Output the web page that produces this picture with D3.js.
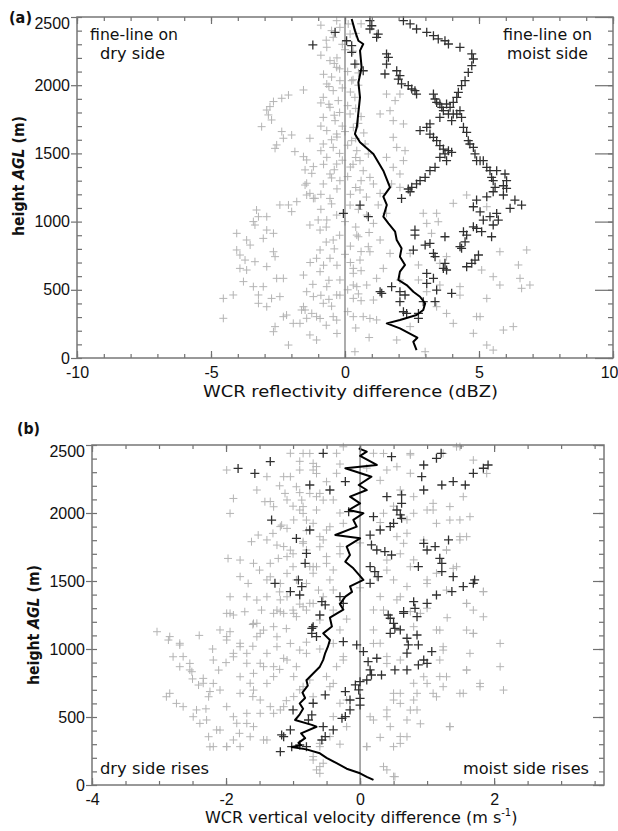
<!DOCTYPE html>
<html>
<head>
<meta charset="utf-8">
<script src="https://cdn.jsdelivr.net/npm/d3@7"></script>
<style>
  body { margin: 0; background: #fff; }
</style>
</head>
<body>
<div id="chart"></div>
<script>
// ---- data: [difference, height AGL (m)] ----
// panel (a) reflectivity difference (dBZ)
const reflGray = [
  [-1.55,1965],[-2.11,1928],[-2.36,1904],[-2.67,1880],[-2.8,1843],[-2.92,1818],[-2.86,1782],[-2.74,1745],[-3.11,1696],[-2.36,1660],
  [-1.99,1635],[-2.3,1611],[-2.55,1562],[-2.61,1537],[-1.87,1513],[-1.31,1611],[-1.55,1476],[-1.43,1452],[-1.18,1403],[-1.49,1379],
  [-1.24,1354],[-1.43,1281],[-1.31,1207],[-1.49,1268],[-1.43,1195],[-1.12,1171],[-1.8,1146],[-2.11,1122],[-2.43,1122],[-1.99,1073],
  [-3.3,1085],[-3.23,1036],[-3.42,1000],[-3.36,975],[-2.92,1036],[-2.92,938],[-2.67,914],[-3.05,877],[-4.04,914],[-3.67,865],
  [-3.54,828],[-4.04,792],[-3.92,755],[-3.73,718],[-3.36,706],[-3.92,657],[-3.67,645],[-2.92,670],[-2.67,779],[-2.61,743],
  [-3.79,560],[-3.42,523],[-3.05,523],[-2.55,584],[-2.3,584],[-3.23,462],[-3.23,401],[-2.92,376],[-2.43,450],[-2.74,437],
  [-4.54,437],[-4.17,462],[-4.54,291],[-2.18,315],[-2.3,303],[-1.93,254],[-1.68,254],[-2.61,230],[-2.67,193],[-1.62,352],
  [-1.49,352],[-1.24,327],[-1.43,486],[-1.18,450],[-1.31,169],[-2.11,95],[-1.06,132],[-1.06,731],[-1.55,608],[-1.0,1012],
  [6.78,792],[6.47,682],[6.9,535],[6.59,511],[6.53,584],[5.1,645],[5.04,303],[4.79,181],[5.29,95],[5.91,205],
  [6.28,230],[4.04,254],[5.29,437],[4.29,523],[2.99,46],[0.37,46],[-1.43,291],[-1.55,376],[-1.06,303],[-0.44,303],
  [-0.81,401],[-0.31,462],[-0.68,523],[-0.19,572],[-0.56,731],[-0.93,792],[0.31,621],[0.81,535],[0.44,523],[0.31,437],
  [1.06,425],[0.68,303],[1.18,279],[0.56,718],[0.87,816],[1.31,865],[0.5,889],[1.06,987],[1.55,1061],[1.24,1122],
  [-0.68,1012],[-0.93,938],[-0.44,865],[0.56,1232],[1.31,1207],[3.05,987],[3.42,1061],[2.92,1061],[3.23,914],[3.79,743],
  [3.54,694],[2.43,767],[2.74,682],[1.68,767],[2.05,572],[3.42,376],[3.79,327],[2.74,572],[2.43,230],[1.93,132],
  [-0.31,2473],[-0.19,2424],[-0.44,2351],[-0.68,2278],[-0.56,2180],[-0.31,2131],[-0.19,2033],[-0.68,2009],[-0.44,1960],[-0.81,1911],
  [-0.25,1887],[-0.56,1838],[-0.81,1764],[-0.37,1740],[-0.68,1667],[-0.31,1642],[-0.81,1569],[-0.44,1544],[-0.68,1471],[-0.31,1422],
  [-0.56,1349],[-0.19,1300],[-0.81,1276],[0.12,2449],[0.19,2375],[0.44,2155],[0.25,2033],[0.37,1911],[0.19,1789],[0.31,1691],
  [0.25,1593],[0.44,1520],[0.56,1447],[0.68,1373],[0.93,1324],[1.06,1276],[0.87,1496],[0.75,1569],[1.55,1471],[1.8,1398],
  [2.05,1349],[2.18,1447],[2.24,1520],[1.93,1544],[1.8,1618],[1.8,1740],[1.68,1813],[1.87,1887],[2.05,1935],[1.55,1935],
  [1.74,1276],[2.05,1251],[1.31,1789],[2.18,1716],[1.18,2375],
  [-1.18,1170],[-0.56,1170],[-1.31,975],[-0.31,1048],[0.19,1121],[0.81,1048],[0.44,901],[0.93,779],[-0.93,633],[0.31,657],
  [-0.19,461],[0.31,535],[1.18,584],[1.43,657],[-0.93,290],[-0.31,278],[0.31,303],[0.93,290],[5.78,535],[5.53,596],
  [4.04,1134],[4.54,1195],[5.29,1109],[5.78,779],[3.54,535],[4.29,461],[3.05,486],[3.48,999],[4.91,303],[5.53,58],
  [0.6,2450],[-0.1,2300],[0.3,2250],[-0.3,2200],[0.1,2100],[-0.5,2060],[0.5,2000],[-0.1,1980],[0.2,1950],[-0.6,1860],
  [0.1,1850],[-0.2,1800],[0.5,1720],[-0.1,1700],[0.7,1650],[-0.5,1600],[0.1,1560],[0.4,1470],[-0.1,1450],[0.2,1400],
  [-0.4,1380],[0.1,1330],[0.4,1250],[-0.3,1240],[0.8,1180],[-0.9,1090],[0.0,1000],[0.4,960],[-0.2,900],[0.2,820],
  [-0.7,850],[0.0,760],[-0.3,680],[0.6,640],[-0.6,570],[0.1,500],[-0.9,460],[0.6,420],[-0.5,380],[0.1,340],
  [-0.7,240],[0.4,220],[-0.3,180],[0.9,150],
  [-0.9,2440],[-0.5,2400],[0.4,2380],[-0.7,2330],[0.0,2260],[-0.9,2220],[-0.4,2160],[0.5,2090],[-0.8,2080],[-0.2,2120],
  [0.3,2040],[-0.6,1990],[-0.9,1870],[0.4,1830],[-0.4,1780],[0.6,1770],[-0.9,1700],[0.0,1660],[-0.3,1620],[0.4,1610],
  [-0.9,1520],[-0.2,1500],[0.3,1420],[-0.8,1420],[-0.5,1320],[0.6,1300],[-0.9,1200],[0.2,1200],[-0.5,1130],[0.5,1090],
  [-0.7,960],[0.9,920],[-0.4,800],[0.6,780],[-1.3,700],[0.2,700],[-0.8,680],[-1.2,540],[0.5,470],[-0.6,430]
];
const reflDark = [
  [0.93,2473],[1.0,2436],[0.93,2412],[1.24,2375],[1.18,2351],[1.55,2229],[1.62,2204],[1.55,2155],[1.49,2082],[1.93,2106],
  [2.05,2070],[1.99,2045],[2.11,2009],[2.36,1997],[2.49,1972],[2.61,1960],[2.67,1935],[3.3,1935],[3.36,1899],[3.42,1874],
  [3.54,1862],[3.61,1838],[3.67,1813],[3.79,1862],[3.86,1789],[3.92,1838],[3.98,1740],[4.04,1789],[4.17,1789],[4.29,1813],
  [4.35,1764],[4.42,1691],[4.54,1654],[4.6,1593],[4.66,1569],[4.79,1544],[4.85,1496],[4.91,1447],[5.04,1447],[5.16,1447],
  [5.29,1398],[5.41,1373],[5.47,1324],[5.53,1300],[5.66,1373],[5.97,1349],[6.03,1300],[5.91,1263],[5.6,1251],
  [2.18,2473],[2.43,2449],[2.67,2412],[3.05,2388],[3.3,2363],[3.48,2339],[3.73,2326],[3.86,2302],[4.29,2278],[4.73,2229],
  [4.79,2192],[4.73,2143],[4.6,2094],[4.48,2033],[4.35,1997],[4.23,1948],[4.17,1911],[4.04,1874],[3.54,1764],[3.17,1716],
  [3.05,1691],[2.8,1667],[3.17,1642],[3.3,1618],[3.42,1593],[3.54,1557],[3.67,1532],[3.86,1520],[3.98,1508],[3.54,1471],
  [3.79,1447],[3.73,1496],[3.36,1398],[3.17,1373],[2.99,1324],[2.8,1300],[2.67,1276],[2.49,1251],[2.36,1239],
  [-0.37,2388],[0.25,2290],[0.25,2241],[0.37,2155],[0.68,2106],[0.06,2326],[-1.2,2295],
  [6.03,1244],[5.53,1219],[5.91,1195],[6.34,1158],[6.59,1121],[6.16,1097],[5.29,1182],[4.91,1158],[4.79,1109],[5.04,1072],
  [5.41,1036],[5.66,1060],[5.16,1011],[5.72,1011],[5.53,975],[4.79,962],[4.91,950],[5.1,926],[5.47,889],[4.42,926],
  [4.54,901],[3.73,889],[4.48,852],[4.29,816],[4.35,804],[2.61,938],[2.61,901],[2.99,828],[3.17,840],[2.55,791],
  [3.3,767],[3.36,743],[3.73,694],[3.79,645],[3.67,657],[4.54,669],[4.73,694],[4.98,755],[4.85,718],[3.05,620],
  [3.3,584],[3.05,547],[3.42,498],[3.98,474],[3.36,413],[2.92,413],[2.05,486],[2.24,462],[2.05,413],[1.74,523],
  [1.31,486],[1.37,474],[2.18,339],[2.3,327],[2.74,327],[2.74,290],[0.56,1121],[0.87,1036],[-0.06,1060],[2.43,1219],
  [2.11,1170]
];
const reflMean = [
  [2.67,58],[2.55,119],[2.7,149],[2.05,217],[1.56,254],[2.05,278],[2.67,315],[2.92,352],[2.99,400],[2.8,449],
  [2.55,486],[2.3,535],[1.99,572],[2.05,633],[2.24,682],[2.05,743],[2.11,804],[1.93,865],[1.87,926],[1.62,987],
  [1.43,1036],[1.56,1122],[1.43,1183],[1.68,1251],[1.43,1373],[1.06,1496],[0.56,1581],[0.37,1642],[0.44,1691],[0.5,1800],
  [0.56,1911],[0.5,2020],[0.62,2131],[0.56,2253],[0.68,2302],[0.5,2326],[0.37,2400],[0.25,2485]
];

// panel (b) vertical velocity difference (m s-1)
const velGray = [
  [-1.99,2316],[-1.89,2107],[-1.94,1997],[-1.54,2169],[-1.42,2083],[-1.29,2046],[-1.52,1838],[-1.62,1789],[-1.97,1666],[-1.79,1654],
  [-1.59,1630],[-1.79,1532],[-1.67,1482],[-1.69,1384],[-1.54,1360],[-1.39,1384],[-1.47,1286],[-1.19,1274],[-1.04,2267],[-0.95,2193],
  [-1.12,2144],[-1.17,1911],[-1.09,1887],[-1.24,1764],[-1.04,1727],[-1.22,1666],[-1.0,1605],[-1.34,1531],[-1.09,1556],[-1.19,1482],
  [-0.9,2022],[-0.8,1948],[-0.85,1789],[-0.65,2022],[-0.75,2438],[-0.7,2365],[-0.65,2291],[-0.6,2144],[-0.87,2095],[-0.6,1752],
  [-0.65,1605],[-0.62,1433],[-0.7,1335],[-0.85,1311],[-1.09,1384],[-1.94,1384],[-1.94,1262],[-1.72,1274],
  [-0.85,2438],[-0.7,2316],[-0.75,2144],[-0.55,2095],[-0.85,1997],[-0.45,1899],[-0.6,1826],[-0.8,1728],[-0.5,1679],[-0.7,1605],
  [-0.4,1581],[-0.8,1482],[-0.55,1384],[-0.4,1286],[-0.25,2487],[0.35,2438],[0.55,2340],[0.75,2438],[0.6,2169],[0.8,2120],
  [1.0,2022],[1.09,2071],[1.34,1948],[1.64,1973],[1.69,2389],[1.54,2120],[1.49,1826],[1.59,1826],[1.14,1924],[0.95,1801],
  [0.65,1777],[1.29,1727],[1.44,1605],[1.84,1421],[1.59,1335],[1.29,1433],[1.0,1482],[0.75,1605],[0.4,1654],[0.25,1531],
  [0.6,1384],[0.9,1262],[0.35,1286],[1.24,2438],[1.44,2487],[1.89,2291],
  [-3.03,1127],[-2.86,1066],[-2.69,1029],[-2.79,943],[-2.69,870],[-2.54,894],[-2.51,833],[-2.89,649],[-2.74,600],[-2.64,576],
  [-2.49,502],[-2.39,453],[-2.26,355],[-2.24,281],[-2.34,784],[-2.41,735],[-2.19,919],[-2.11,845],[-2.19,747],[-2.09,698],
  [-2.26,649],[-1.99,1066],[-1.94,1127],[-1.79,1017],[-1.89,943],[-1.69,968],[-1.54,1090],[-1.44,1139],[-1.59,1188],[-1.89,1250],
  [-1.99,1262],[-1.79,796],[-1.59,698],[-1.39,747],[-1.29,870],[-1.44,870],[-1.14,931],[-1.04,1041],[-1.24,1090],[-1.99,576],
  [-1.89,502],[-1.69,453],[-1.49,527],[-1.29,527],[-1.14,576],[-2.09,404],[-1.89,331],[-1.64,355],[-1.44,331],[-1.99,282],
  [-1.79,282],[-0.9,992],[-0.95,870],[-0.75,772],[-0.7,184],[-0.6,135],[-1.0,1286],[-1.24,1286],
  [-0.8,1286],[-0.6,1213],[-0.8,968],[-0.4,1041],[-0.25,919],[-0.4,747],[-0.7,649],[-0.2,625],[-0.6,306],[-0.6,86],
  [0.2,1041],[0.4,894],[0.5,674],[0.6,600],[0.4,502],[0.15,502],[0.45,429],[0.7,355],[0.6,306],[0.1,282],
  [0.35,135],[0.52,61],[0.8,625],[0.85,674],[1.0,747],[1.14,649],[1.24,723],[1.29,796],[1.54,674],[1.79,747],
  [2.14,698],[2.09,870],[2.09,1041],[1.69,1115],[1.59,1139],[1.64,968],[1.59,845],[1.19,1139],[1.19,919],[0.95,796],
  [0.75,551],[1.34,429],[0.8,1164],[0.5,1188],[1.24,992],[1.84,1237],[1.69,1286],
  [-1.04,2439],[-0.35,2439],[0.2,2439],[0.75,2427],[1.49,2488],[-1.39,2267],[-1.14,2267],[-0.9,2316],[-0.65,2341],[-0.35,2292],
  [0.4,2316],[0.75,2292],[-1.34,2084],[-1.09,2096],[-0.85,2047],[-0.65,2120],[-0.4,2096],[0.35,1998],[0.8,1998],[1.09,2022],
  [1.34,2047],[1.49,1949],[-1.19,1900],[-0.99,1949],[-0.7,1924],[-0.5,1875],[-0.25,1924],[-1.39,1802],[-1.14,1753],[-0.85,1777],
  [-0.55,1802],[-0.3,1753],[0.55,1826],[0.7,1851],[1.49,1802],[-1.34,1630],[-1.09,1679],[-0.75,1606],[-0.5,1630],[0.8,1655],
  [1.29,1728],[1.39,1593],[-1.39,1508],[-0.95,1508],[-0.7,1557],[-0.45,1508],[0.5,1508],[0.7,1459],[1.0,1508],[-1.19,1361],
  [-0.75,1336],[-0.4,1434],[0.3,1385],[0.55,1361],[1.14,1557],[1.59,1336],[1.84,1422],[-1.29,1262],[-0.99,1262],[0.2,1287],
  [0.75,1275],
  [-2.84,1091],[-2.69,1042],[-2.64,944],[-2.54,846],[-2.34,748],[-2.24,687],[-2.84,674],[-2.44,552],[-2.29,478],[-2.14,405],
  [-2.19,282],[-1.99,282],[-2.09,1140],[-1.99,1091],[-1.79,1042],[-1.89,968],[-1.69,895],[-1.59,821],[-1.79,674],[-1.64,748],
  [-1.49,895],[-1.39,968],[-1.54,1189],[-1.49,1115],[-1.29,1164],[-1.14,1262],[-0.95,1238],[-1.24,1017],[-1.09,919],[-0.99,797],
  [-1.29,797],[-1.49,625],[-1.34,576],[-1.69,527],[-1.84,454],[-1.59,429],[-1.39,331],[-1.19,552],[-0.99,650],[-0.85,723],
  [-0.5,797],[-0.35,870],[-0.25,944],[-0.45,723],[-0.3,601],[-0.4,503],[-0.2,429],[-0.7,209],[-0.65,111],[-0.55,160],
  [-0.45,356],[-0.6,282],[0.2,478],[0.4,552],[0.5,625],[0.6,674],[0.8,748],[0.85,552],[0.7,478],[0.6,356],
  [0.5,282],[0.4,111],[0.5,62],[0.1,282],[0.2,1140],[0.3,1042],[0.4,944],[0.6,919],[1.14,1140],[1.24,1017],
  [1.19,797],[1.09,674],[1.34,429],[1.49,674],[1.69,1115],[1.59,846],[1.79,723],
  [-0.9,2380],[-0.3,2360],[0.1,2330],[-1.2,2200],[-0.5,2230],[0.3,2240],[-0.9,2150],[0.5,2050],[-1.0,2050],[-0.3,2000],
  [0.7,1950],[-1.3,1850],[0.3,1930],[-0.8,1870],[0.0,1780],[-1.0,1700],[-0.3,1700],[0.6,1700],[-1.5,1580],[0.4,1580],
  [-1.2,1420],[0.0,1450],[-0.9,1330],[-0.2,1220],[-1.6,1180],[-1.1,1150],[-0.3,1140],[-2.4,1100],[-2.2,1000],[-1.6,1020],
  [-0.8,1050],[-2.0,900],[-1.2,850],[-0.6,1000],[-2.5,780],[-1.6,650],[-0.9,700],[-2.3,560],[-1.1,620],[-1.8,380],
  [-0.3,300],[0.3,350],[0.9,450],[1.0,1300],[1.3,1230]
];
const velDark = [
  [-1.34,2378],[-0.55,2439],[-0.75,2206],[-0.45,2169],[-0.22,2231],[0.47,2414],[0.95,2353],[1.14,2402],[1.21,2439],[1.69,2292],
  [1.84,2329],[1.91,2353],[1.39,2231],[1.22,2206],[1.57,2206],[0.92,2267],[0.95,2169],[0.4,2120],[0.62,2133],[0.62,2071],
  [0.55,2022],[0.6,1986],[0.62,1961],[0.5,1924],[0.45,1900],[0.3,1875],[0.2,1973],[-0.17,2010],[0.15,1838],[0.17,1765],
  [0.25,1728],[0.37,1716],[0.47,1691],[0.95,1777],[1.12,1753],[1.32,1802],[1.0,1728],[1.19,1667],[1.22,1630],[0.87,1606],
  [0.15,1606],[0.22,1569],[0.27,1532],[0.15,1483],[1.22,1569],[1.39,1532],[1.71,1508],[1.69,1483],[1.54,1459],[1.37,1422],
  [1.14,1397],[1.0,1336],[0.8,1348],[0.82,1299],[0.65,1275],[0.42,1250],[-1.27,1483],[-1.04,1422],[-0.9,1397],[-0.92,1508],
  [-0.87,1459],[-0.57,1348],[-0.52,1324],[-0.3,1385],[-0.25,1336],[-0.6,1250],
  [-1.82,2328],[-1.57,2291],[-1.32,1948],[-0.75,1875],[-0.95,1813],[-0.8,1703],[-0.82,1630],
  [-0.72,1152],[-0.72,1115],[-0.65,1091],[-0.25,1054],[-0.05,1030],[0.05,981],[0.12,907],[0.25,932],[0.15,846],[0.17,809],
  [0.32,809],[0.1,772],[0,760],[-0.07,736],[-0.02,699],[0,637],[0,588],[-0.15,625],[-0.22,687],[-0.15,552],
  [-0.22,503],[-0.27,490],[-0.4,405],[-0.55,429],[-0.52,356],[-0.57,331],[-0.7,601],[-0.52,662],[-0.72,515],[-0.77,478],
  [-1.0,552],[-1.04,405],[-1.17,368],[-1.02,282],[-1.19,245],[-0.9,294],[-0.8,282],[0.45,1226],[0.5,1189],[0.52,1152],
  [0.45,1115],[0.65,1262],[0.85,1238],[0.6,1140],[0.7,1079],[0.72,1030],[0.7,969],[0.85,1103],[0.87,1030],[0.95,919],
  [1.0,895],[1.07,981],[0.87,883],[0.52,846],[0.7,846],[-1.14,355],[-0.7,1164]
];
const velMean = [
  [0.2,37],[0.1,60],[0.0,86],[-0.2,120],[-0.35,160],[-0.5,200],[-0.6,233],[-0.8,262],[-1.02,280],[-0.88,292],
  [-0.92,310],[-0.82,345],[-0.88,380],[-0.65,428],[-0.72,442],[-0.97,478],[-0.9,520],[-0.85,560],[-0.9,600],[-0.82,640],
  [-0.86,680],[-0.78,730],[-0.8,770],[-0.7,820],[-0.6,870],[-0.55,920],[-0.52,970],[-0.48,1017],[-0.45,1066],[-0.55,1115],
  [-0.42,1165],[-0.45,1230],[-0.25,1290],[-0.3,1330],[-0.22,1385],[-0.12,1420],[-0.15,1460],[0.05,1508],[-0.1,1593],[-0.22,1642],
  [-0.15,1691],[-0.2,1753],[0.0,1814],[-0.37,1838],[-0.05,1900],[-0.1,1949],[0.05,1998],[-0.17,2022],[0.0,2071],[-0.15,2120],
  [0.1,2169],[-0.02,2206],[0.17,2267],[-0.22,2329],[0.25,2353],[0.0,2420],[0.1,2451],[-0.02,2475]
];

// ---- ticks ----
const heightTicks = [0, 500, 1000, 1500, 2000, 2500];
const heightMinor = d3.range(0, 2501, 100);
const reflTicks = [-10, -5, 0, 5, 10];
const reflMinor = d3.range(-10, 10.01, 1);
const velTicks = [-4, -2, 0, 2];
const velMinor = d3.range(-4, 3.6, 0.5);

const W = 618, H = 831;
const comic = "'Comic Sans MS', 'DejaVu Sans', sans-serif";
const helv = "'Liberation Sans', Arial, sans-serif";

const svg = d3.select("#chart").append("svg")
    .attr("width", W)
    .attr("height", H);

function plus(x, y, s) {
  return `M${x - s},${y}H${x + s}M${x},${y - s}V${y + s}`;
}

function drawPanel(p) {
  const x = d3.scaleLinear().domain(p.xDomain).range([p.left, p.right]);
  const y = d3.scaleLinear().domain([0, 2500]).range([p.bottom, p.top]);
  const g = svg.append("g");

  // light grey crosses
  g.append("path")
      .attr("d", p.gray.map(d => plus(x(d[0]), y(d[1]), 4)).join(""))
      .attr("fill", "none")
      .attr("stroke", "#b4b4b4")
      .attr("stroke-width", 1);

  // zero line
  g.append("line")
      .attr("x1", x(0)).attr("x2", x(0))
      .attr("y1", y(0)).attr("y2", y(2500))
      .attr("stroke", "#808080")
      .attr("stroke-width", 1.3);

  // dark crosses
  g.append("path")
      .attr("d", p.dark.map(d => plus(x(d[0]), y(d[1]), 4.5)).join(""))
      .attr("fill", "none")
      .attr("stroke", "#303030")
      .attr("stroke-width", 1.3);

  // mean profile
  g.append("path")
      .datum(p.mean)
      .attr("fill", "none")
      .attr("stroke", "#000")
      .attr("stroke-width", 2)
      .attr("stroke-linejoin", "round")
      .attr("d", d3.line().x(d => x(d[0])).y(d => y(d[1])));

  const fmtX = d => d < 0 ? "-" + Math.abs(d) : String(d);

  // axes
  const axes = [
    [d3.axisBottom(x).tickValues(p.xMinor).tickSize(-4).tickFormat(""), p.bottom, 0],
    [d3.axisBottom(x).tickValues(p.xTicks).tickSize(-7).tickPadding(9).tickFormat(fmtX), p.bottom, 0],
    [d3.axisTop(x).tickValues(p.xMinor).tickSize(-4).tickFormat(""), p.top, 0],
    [d3.axisTop(x).tickValues(p.xTicks).tickSize(-7).tickFormat(""), p.top, 0],
    [d3.axisLeft(y).tickValues(heightMinor).tickSize(-5).tickFormat(""), 0, p.left],
    [d3.axisLeft(y).tickValues(heightTicks).tickSize(6).tickPadding(1).tickFormat(d3.format("d")), 0, p.left],
    [d3.axisRight(y).tickValues(heightMinor).tickSize(-5).tickFormat(""), 0, p.right],
    [d3.axisRight(y).tickValues(heightTicks).tickSize(-p.rightMajor).tickFormat(""), 0, p.right]
  ];
  axes.forEach(([ax, ty, tx]) => {
    const a = g.append("g")
        .attr("transform", `translate(${tx},${ty})`)
        .call(ax);
    a.select(".domain").remove();
    a.selectAll(".tick line").attr("stroke", "#707070").attr("stroke-width", 1.2);
    a.selectAll(".tick text")
        .attr("fill", "#111")
        .attr("font-family", helv)
        .attr("font-size", "16px");
  });
  // top height label sits just below the frame, as in the original
  g.selectAll(".tick text").filter(d => d === 2500).attr("dy", "0.72em").attr("y", 0);
  // right-most x label kept inside the page
  g.selectAll(".tick text").filter(d => d === 10).attr("text-anchor", "end").attr("x", 5);

  // frame
  g.append("rect")
      .attr("x", p.left).attr("y", p.top)
      .attr("width", p.right - p.left).attr("height", p.bottom - p.top)
      .attr("fill", "none")
      .attr("stroke", "#777")
      .attr("stroke-width", 1.5);

  return { x, y, g };
}

drawPanel({
  left: 77, right: 613, top: 17, bottom: 358, rightMajor: 18,
  xDomain: [-10, 10], xTicks: reflTicks, xMinor: reflMinor,
  gray: reflGray, dark: reflDark, mean: reflMean
});
drawPanel({
  left: 92, right: 604, top: 445, bottom: 785, rightMajor: 11,
  xDomain: [-4, 3.64], xTicks: velTicks, xMinor: velMinor,
  gray: velGray, dark: velDark, mean: velMean
});

// ---- text ----
function label(t, x, y, opts = {}) {
  const el = svg.append("text")
      .attr("x", x).attr("y", y)
      .attr("font-family", opts.font || comic)
      .attr("font-size", opts.size || "15px")
      .attr("font-weight", opts.weight || "normal")
      .attr("fill", "#111")
      .attr("text-anchor", opts.anchor || "start")
      .text(t);
  if (opts.len) el.attr("textLength", opts.len).attr("lengthAdjust", "spacingAndGlyphs");
  return el;
}

label("(a)", 9, 23, { weight: "bold", size: "16px", len: 23 });
label("(b)", 17, 434, { weight: "bold", size: "16px", len: 23 });

label("fine-line on", 90, 40, { len: 88 });
label("dry side", 100, 59, { len: 65 });
label("fine-line on", 503, 40, { len: 89 });
label("moist side", 507, 59, { len: 81 });

label("dry side rises", 100, 774, { size: "16px", len: 109 });
label("moist side rises", 463, 774, { size: "16px", len: 126 });

label("WCR reflectivity difference (dBZ)", 203, 397, { size: "16px", len: 295 });

const xt = svg.append("text")
    .attr("x", 205).attr("y", 823)
    .attr("font-family", comic)
    .attr("font-size", "16px")
    .attr("fill", "#111");
xt.append("tspan").text("WCR vertical velocity difference (m s");
xt.append("tspan").attr("font-size", "10px").attr("dy", -7).text("-1");
xt.append("tspan").attr("dy", 7).text(")");

// y titles
[[24, 176], [39, 625]].forEach(([cx, cy]) => {
  const t = svg.append("text")
      .attr("transform", `translate(${cx},${cy}) rotate(-90)`)
      .attr("text-anchor", "middle")
      .attr("font-family", comic)
      .attr("font-size", "15px")
      .attr("font-weight", "bold")
      .attr("fill", "#111")
      .attr("textLength", 120)
      .attr("lengthAdjust", "spacingAndGlyphs");
  t.append("tspan").text("height ");
  t.append("tspan").attr("font-style", "italic").text("AGL");
  t.append("tspan").text(" (m)");
});
</script>
</body>
</html>
